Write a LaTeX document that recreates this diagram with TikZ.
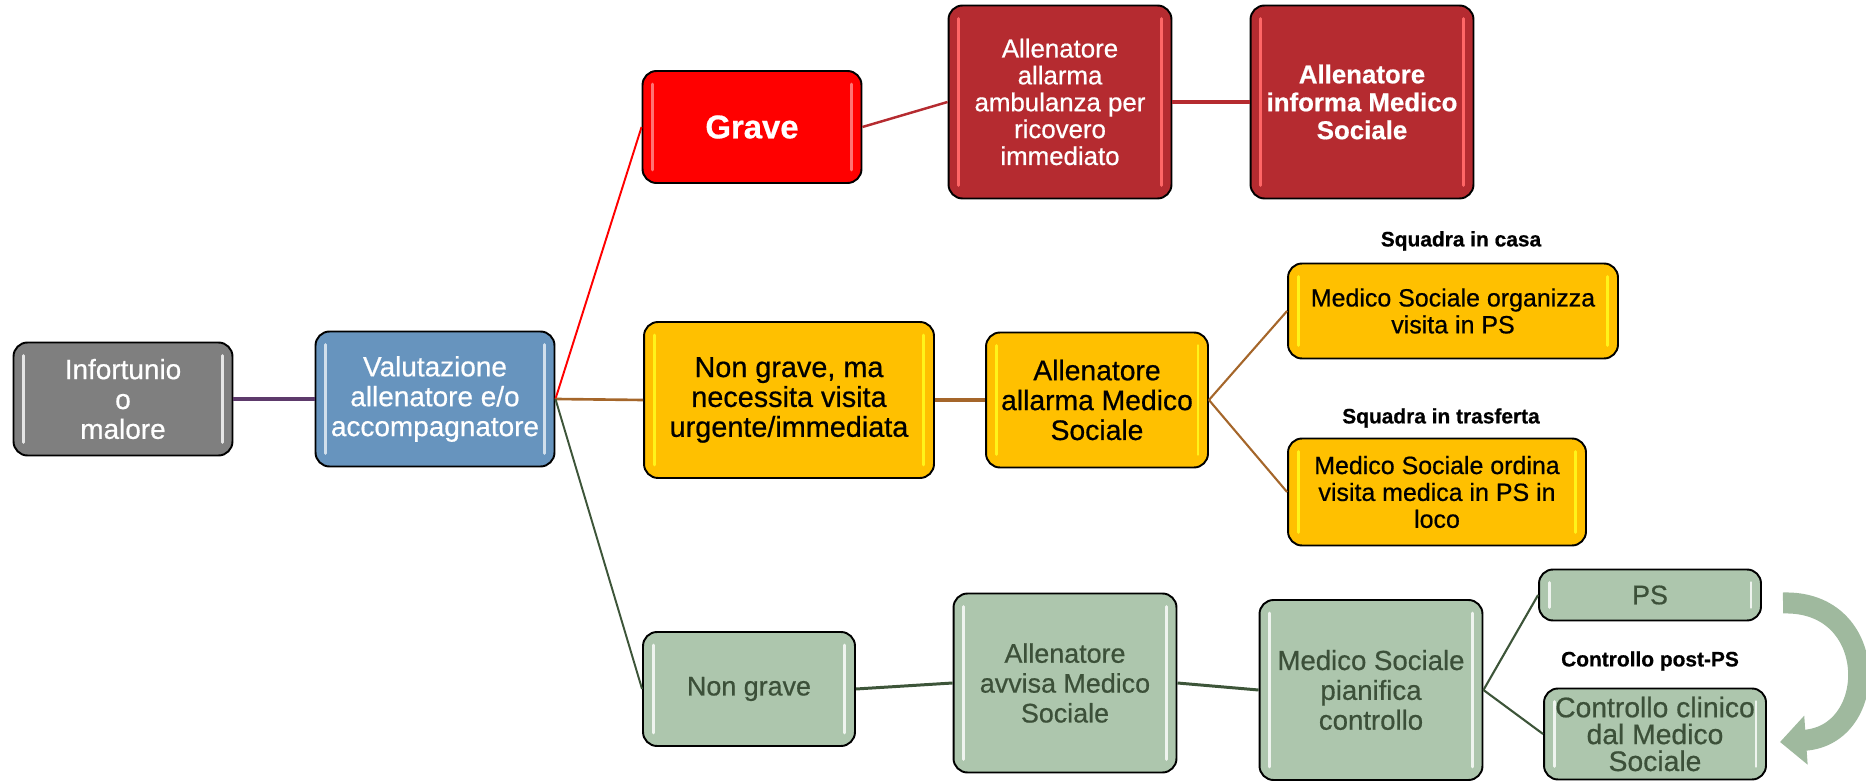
\documentclass[tikz,border=0pt]{standalone}
\usepackage{fontspec}
\setmainfont{Liberation Sans}[FakeBold=0.6]
\usetikzlibrary{arrows.meta}

\definecolor{grigio}{HTML}{7F7F7F}
\definecolor{blu}{HTML}{6794BE}
\definecolor{rosso}{HTML}{FF0000}
\definecolor{rossoscuro}{HTML}{B52B30}
\definecolor{giallo}{HTML}{FFC000}
\definecolor{verde}{HTML}{ADC6AD}
\definecolor{verdetesto}{HTML}{3C5039}
\definecolor{verdelinea}{HTML}{3D5539}
\definecolor{verdefreccia}{HTML}{9FB99E}
\definecolor{viola}{HTML}{5D3A6B}
\definecolor{marrone}{HTML}{A5662A}

\begin{document}
\begin{tikzpicture}[x=0.02cm,y=-0.02cm]
\useasboundingbox (0,0) rectangle (1866,783);

\tikzset{box/.style = {draw=black, line width=1.1pt, rounded corners=0.28cm, align=center, inner sep=1pt}}
\tikzset{gloss/.style = {path picture={
  \draw[#1, line width=1.7pt, line cap=round]
    ([xshift=0.2cm,yshift=-0.26cm]path picture bounding box.north west) -- ([xshift=0.2cm,yshift=0.26cm]path picture bounding box.south west);
  \draw[#1, line width=1.7pt, line cap=round]
    ([xshift=-0.2cm,yshift=-0.26cm]path picture bounding box.north east) -- ([xshift=-0.2cm,yshift=0.26cm]path picture bounding box.south east);
}}}
\tikzset{grigiobox/.style = {box, fill=grigio, text=white, gloss=white!80!grigio}}
\tikzset{blubox/.style = {box, fill=blu, text=white, gloss=white!70!blu}}
\tikzset{rossobox/.style = {box, fill=rosso, text=white, gloss=white!45!rosso}}
\tikzset{scurobox/.style = {box, fill=rossoscuro, text=white, gloss=red!60!white}}
\tikzset{giallobox/.style = {box, fill=giallo, text=black, gloss=yellow!90!white}}
\tikzset{verdebox/.style = {box, fill=verde, text=verdetesto, gloss=white!80!verde}}
\tikzset{titolo/.style = {font=\bfseries\fontsize{11.9}{13}\selectfont, inner sep=0pt}}
\tikzset{freccia/.style = {draw=verdefreccia, line width=0.42cm, -{Triangle[width=0.95cm,length=0.52cm]}}}

% colonna iniziale
\node[grigiobox, minimum width=4.38cm, minimum height=2.26cm, font=\fontsize{15.9}{17}\selectfont] (inf) at (123,399) {Infortunio\\o\\malore};
\node[blubox, minimum width=4.78cm, minimum height=2.7cm, font=\fontsize{15.9}{17}\selectfont] (val) at (435,399) {Valutazione\\allenatore e/o\\accompagnatore};

% ramo grave
\node[rossobox, minimum width=4.38cm, minimum height=2.24cm, font=\bfseries\fontsize{18.7}{20}\selectfont] (grave) at (752,127) {Grave};
\node[scurobox, minimum width=4.46cm, minimum height=3.86cm, font=\fontsize{14.7}{15.3}\selectfont] (amb) at (1060,102) {Allenatore\\allarma\\ambulanza per\\ricovero\\immediato};
\node[scurobox, minimum width=4.46cm, minimum height=3.86cm, font=\bfseries\fontsize{14.7}{15.9}\selectfont] (inform) at (1362,102) {Allenatore\\informa Medico\\Sociale};

% ramo urgente
\node[giallobox, minimum width=5.8cm, minimum height=3.12cm, font=\fontsize{16.4}{17}\selectfont] (ngm) at (789,400) {Non grave, ma\\necessita visita\\urgente/immediata};
\node[giallobox, minimum width=4.44cm, minimum height=2.7cm, font=\fontsize{16.1}{17}\selectfont] (allms) at (1097,400) {Allenatore\\allarma Medico\\Sociale};
\node[giallobox, minimum width=6.6cm, minimum height=1.9cm, font=\fontsize{14.2}{15.3}\selectfont] (org) at (1453,311) {Medico Sociale organizza\\visita in PS};
\node[giallobox, minimum width=5.96cm, minimum height=2.14cm, font=\fontsize{14.2}{15.3}\selectfont] (ord) at (1437,492) {Medico Sociale ordina\\visita medica in PS in\\loco};
\node[titolo] (casa) at (1461,241) {Squadra in casa};
\node[titolo] (trasf) at (1441,418) {Squadra in trasferta};

% ramo non grave
\node[verdebox, minimum width=4.24cm, minimum height=2.28cm, font=\fontsize{15.3}{17}\selectfont] (ng) at (749,689) {Non grave};
\node[verdebox, minimum width=4.46cm, minimum height=3.58cm, font=\fontsize{15.3}{17}\selectfont] (avv) at (1065,683) {Allenatore\\avvisa Medico\\Sociale};
\node[verdebox, minimum width=4.46cm, minimum height=3.6cm, font=\fontsize{15.7}{17}\selectfont] (pian) at (1371,690) {Medico Sociale\\pianifica\\controllo};
\node[verdebox, minimum width=4.44cm, minimum height=1.02cm, font=\fontsize{15.3}{17}\selectfont] (ps) at (1650,595) {PS};
\node[verdebox, minimum width=4.44cm, minimum height=1.82cm, font=\fontsize{16.1}{15.3}\selectfont] (clin) at (1655,734) {Controllo clinico\\dal Medico\\Sociale};
\node[titolo] (post) at (1650,661) {Controllo post-PS};

% collegamenti
\draw[viola, line width=2.3pt] (inf) -- (val);
\draw[rosso, line width=1.1pt] (val.east) -- (grave.west);
\draw[marrone, line width=1.5pt] (val.east) -- (ngm.west);
\draw[verdelinea, line width=1.1pt] (val.east) -- (ng.west);
\draw[rossoscuro, line width=1.4pt] (grave.east) -- (amb.west);
\draw[rossoscuro, line width=2.8pt] (amb) -- (inform);
\draw[marrone, line width=2.8pt] (ngm) -- (allms);
\foreach \to in {org, ord}
\draw[marrone, line width=1.2pt] (allms.east) -- (\to.west);
\draw[verdelinea, line width=1.7pt] (ng.east) -- (avv.west);
\draw[verdelinea, line width=1.7pt] (avv.east) -- (pian.west);
\foreach \to in {ps, clin}
\draw[verdelinea, line width=1.2pt] (pian.east) -- (\to.west);

% freccia curva
\coordinate (curvaA) at (1783,603);
\coordinate (curvaB) at (1780,742);
\draw[freccia] (curvaA) .. controls (1880,600) and (1880,735) .. (curvaB);
\end{tikzpicture}
\end{document}
